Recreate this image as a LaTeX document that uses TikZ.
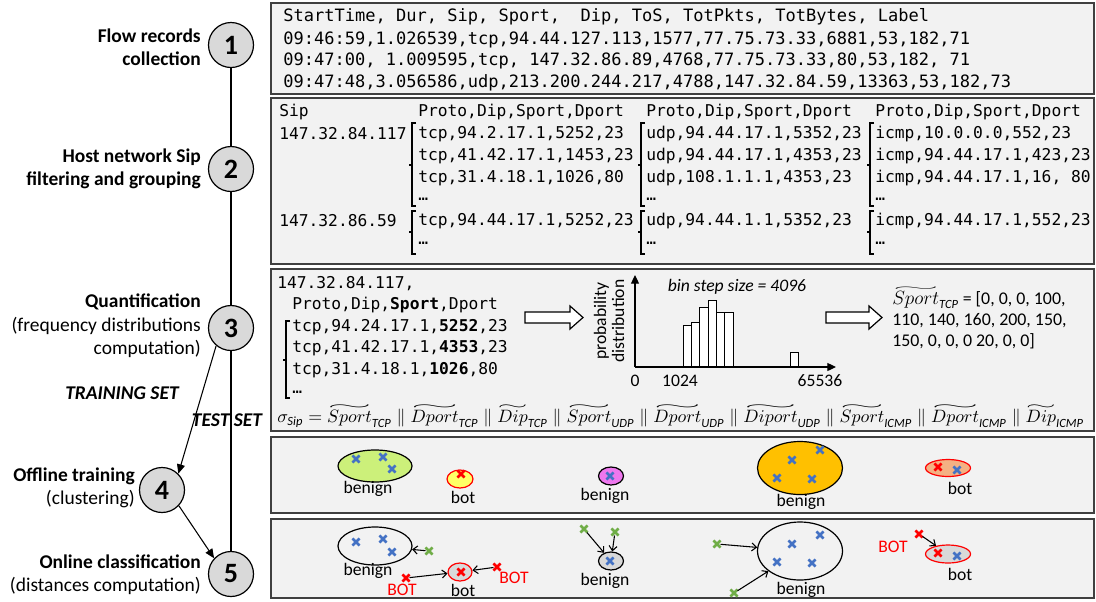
\documentclass[tikz,border=0pt]{standalone}
\usepackage{graphicx}
\usepackage{amsmath}
\usepackage{fontspec}
\setmainfont{Carlito}
\setmonofont{DejaVu Sans Mono}
\usetikzlibrary{shapes.geometric,shapes.misc,arrows.meta}
\newdimen\pxu \pxu=0.75pt
\definecolor{panelbg}{HTML}{F2F2F2}
\definecolor{stepgray}{HTML}{D9D9D9}
\definecolor{xblue}{HTML}{4472C4}
\definecolor{xred}{HTML}{FF0000}
\definecolor{xgreen}{HTML}{70AD47}
\definecolor{limeF}{HTML}{CCF07A}
\definecolor{yelF}{HTML}{FFFF66}
\definecolor{pinkF}{HTML}{EE77EE}
\definecolor{orangeF}{HTML}{FFC000}
\definecolor{salmonF}{HTML}{F4B183}
\newsavebox{\wtlbox}\newlength{\wtlw}
\newcommand{\wtl}[1]{\mathord{\vbox{\offinterlineskip\sbox{\wtlbox}{$#1$}\setlength{\wtlw}{\wd\wtlbox}\hbox{\resizebox{\wtlw}{2.6pt}{$\sim$}}\kern0.6pt\copy\wtlbox}}}
\newcommand{\sbi}[1]{\textit{#1}}
\newcommand{\brkt}[4]{\draw[brk] (#1+4,#2) -- (#1,#2) -- (#1,#3) -- (#1+4,#3) (#1,#4) -- (#1-3,#4);}
\tikzset{
 panel/.style={draw=black!75, line width=1.2pt, fill=panelbg},
 stepc/.style={circle, draw=black, line width=0.9pt, fill=stepgray, minimum size=45\pxu, inner sep=0pt, font=\fontsize{21}{21}\selectfont\bfseries},
 lbl/.style={anchor=east, align=right, inner sep=0pt, font=\fontsize{14.6}{17.5}\selectfont},
 setlbl/.style={inner sep=0pt, font=\fontsize{14.6}{17.5}\selectfont\bfseries\itshape},
 monoA/.style={anchor=west, inner sep=0pt, font=\ttfamily\fontsize{12.77}{15}\selectfont},
 monoB/.style={anchor=west, inner sep=0pt, font=\ttfamily\fontsize{12.2}{15}\selectfont},
 txt/.style={inner sep=0pt, font=\fontsize{13.2}{15}\selectfont},
 flowarrow/.style={-{Triangle[length=7pt,width=6pt]}, line width=0.8pt},
 brk/.style={line width=0.8pt},
 xm/.style={cross out, draw=#1, line width=1.9pt, minimum size=4.5\pxu, inner sep=0pt},
 clu/.style={ellipse, inner sep=0pt, line width=0.9pt},
 pt/.style={-{Straight Barb[length=3.5pt,width=6pt]}, line width=0.8pt},
 hollow/.style={draw=black, fill=white, line width=0.9pt, line join=miter},
 axis/.style={line width=0.9pt, -{Triangle[length=6.5pt,width=6pt]}},
 bar/.style={draw=black, fill=white, line width=0.75pt}
}
\begin{document}
\begin{tikzpicture}[x=0.75pt,y=-0.75pt]
\useasboundingbox (0,0) rectangle (1096,601);
\fill[white] (0,0) rectangle (1096,601);

% ---------- panels ----------
\draw[panel] (271,3) rectangle (1094,94);
\draw[panel] (271,98) rectangle (1094,264);
\draw[panel] (271,269) rectangle (1094,431);
\draw[panel] (271,437) rectangle (1094,513);
\draw[panel] (271,519) rectangle (1094,598);

% ---------- left column ----------
\node[stepc] (c1) at (231,45) {1};
\node[stepc] (c2) at (231,169) {2};
\node[stepc] (c3) at (231,328) {3};
\node[stepc] (c4) at (162,490) {4};
\node[stepc] (c5) at (231,574) {5};
\draw[line width=0.8pt] (c1) -- (c2);
\draw[line width=0.8pt] (c2) -- (c3);
\draw[line width=0.8pt] (c3) -- (c5);
\draw[flowarrow] (c3.230) -- (c4.45);
\draw[flowarrow] (c4.-43) -- (c5.137);

\node[lbl, font=\fontsize{14.6}{17.5}\selectfont\bfseries] (t1) at (201,47) {Flow records\\collection};
\node[lbl, font=\fontsize{14.6}{17.5}\selectfont\bfseries] (t2) at (201,169) {Host network Sip\\filtering and grouping};
\node[lbl] (t3) at (201,326) {{\bfseries Quantification}\\(frequency distributions\\computation)};
\node[setlbl] (tr) at (122,393) {TRAINING SET};
\node[setlbl] (ts) at (227,420) {TEST SET};
\node[lbl] (t4) at (135,488) {{\bfseries Offline training}\\(clustering)};
\node[lbl] (t5) at (201,575) {{\bfseries Online classification}\\(distances computation)};

% ---------- panel 1 ----------
\node[monoA] (r1) at (283,17) {StartTime, Dur, Sip, Sport,~ Dip, ToS, TotPkts, TotBytes, Label};
\node[monoA] (r2) at (283,40) {09:46:59,1.026539,tcp,94.44.127.113,1577,77.75.73.33,6881,53,182,71};
\node[monoA] (r3) at (283,61) {09:47:00, 1.009595,tcp, 147.32.86.89,4768,77.75.73.33,80,53,182, 71};
\node[monoA] (r4) at (283,83) {09:47:48,3.056586,udp,213.200.244.217,4788,147.32.84.59,13363,53,182,73};

% ---------- panel 2 ----------
\node[monoB] (h0) at (279,112) {Sip};
\node[monoB] (h1) at (418,112) {Proto,Dip,Sport,Dport};
\node[monoB] (h2) at (646,112) {Proto,Dip,Sport,Dport};
\node[monoB] (h3) at (875,112) {Proto,Dip,Sport,Dport};
\node[monoB] (s1) at (279,134) {147.32.84.117};
\node[monoB] (a1) at (418,134) {tcp,94.2.17.1,5252,23};
\node[monoB] (a2) at (418,156) {tcp,41.42.17.1,1453,23};
\node[monoB] (a3) at (418,178) {tcp,31.4.18.1,1026,80};
\node[monoB] (a4) at (418,199) {…};
\node[monoB] (u1) at (646,134) {udp,94.44.17.1,5352,23};
\node[monoB] (u2) at (646,156) {udp,94.44.17.1,4353,23};
\node[monoB] (u3) at (646,178) {udp,108.1.1.1,4353,23};
\node[monoB] (u4) at (646,199) {…};
\node[monoB] (i1) at (875,134) {icmp,10.0.0.0,552,23};
\node[monoB] (i2) at (875,156) {icmp,94.44.17.1,423,23};
\node[monoB] (i3) at (875,178) {icmp,94.44.17.1,16, 80};
\node[monoB] (i4) at (875,199) {…};
\node[monoB] (s2) at (279,221) {147.32.86.59};
\node[monoB] (a5) at (418,221) {tcp,94.44.17.1,5252,23};
\node[monoB] (a6) at (418,243) {…};
\node[monoB] (u5) at (646,221) {udp,94.44.1.1,5352,23};
\node[monoB] (u6) at (646,243) {…};
\node[monoB] (i5) at (875,221) {icmp,94.44.17.1,552,23};
\node[monoB] (i6) at (875,243) {…};
\brkt{412}{123}{206}{165}
\brkt{641}{123}{206}{165}
\brkt{870}{123}{206}{165}
\brkt{412}{211}{254}{232}
\brkt{641}{211}{254}{232}
\brkt{870}{211}{254}{232}

% ---------- panel 3 ----------
\node[monoB] (q0) at (277,284) {147.32.84.117,};
\node[monoB] (q1) at (292,305) {Proto,Dip,\textbf{Sport},Dport};
\node[monoB] (q2) at (292,327) {tcp,94.24.17.1,\textbf{5252},23};
\node[monoB] (q3) at (292,348) {tcp,41.42.17.1,\textbf{4353},23};
\node[monoB] (q4) at (292,370) {tcp,31.4.18.1,\textbf{1026},80};
\node[monoB] (q5) at (292,392) {…};
\brkt{286}{321}{398}{360}

\draw[hollow] (525,312) -- (570,312) -- (570,306) -- (583,317.5) -- (570,329) -- (570,323) -- (525,323) -- cycle;
\draw[hollow] (826,312) -- (869,312) -- (869,306) -- (882,317.5) -- (869,329) -- (869,323) -- (826,323) -- cycle;

\node[txt, rotate=90, align=center, font=\fontsize{13.2}{13.5}\selectfont] (pd) at (609,321) {probability\\distribution};
\draw[bar] (683,367) rectangle (691.3,325);
\draw[bar] (691.3,367) rectangle (699.7,322);
\draw[bar] (699.7,367) rectangle (708,307);
\draw[bar] (708,367) rectangle (716.3,300);
\draw[bar] (716.3,367) rectangle (724.7,312);
\draw[bar] (724.7,367) rectangle (733,312);
\draw[bar] (790,367) rectangle (798,352);
\coordinate (o) at (635,367);
\coordinate (ytip) at (635,275);
\coordinate (xtip) at (836,367);
\draw[axis] (o) -- (ytip);
\draw[axis] (o) -- (xtip);
\node[txt] (n0) at (635,381) {0};
\node[txt] (n1) at (680,381) {1024};
\node[txt] (n2) at (820,381) {65536};
\node[txt, font=\fontsize{13.2}{15}\selectfont\itshape] (bs) at (737,287) {bin step size = 4096};

\node[anchor=west, align=left, inner sep=0pt, font=\fontsize{13.4}{15.75}\selectfont] (vec) at (892,318) {$\wtl{Sport}_{\sbi{TCP}}$ = [0, 0, 0, 100,\\110, 140, 160, 200, 150,\\150, 0, 0, 0 20, 0, 0]};

\node[anchor=west, inner sep=0pt] (sig) at (277,416) {\resizebox{605pt}{!}{$\sigma_{\sbi{Sip}} = \wtl{Sport}_{\sbi{TCP}} \parallel \wtl{Dport}_{\sbi{TCP}} \parallel \wtl{Dip}_{\sbi{TCP}} \parallel \wtl{Sport}_{\sbi{UDP}} \parallel \wtl{Dport}_{\sbi{UDP}} \parallel \wtl{Diport}_{\sbi{UDP}} \parallel \wtl{Sport}_{\sbi{ICMP}} \parallel \wtl{Dport}_{\sbi{ICMP}} \parallel \wtl{Dip}_{\sbi{ICMP}}$}};

% ---------- panel 4 ----------
\node[clu, draw=black, fill=limeF, minimum width=74\pxu, minimum height=32\pxu] (g4a) at (375,466) {};
\foreach \p [count=\i] in {(356,459),(383,457),(392,469)} \node[xm=xblue] (b4a\i) at \p {};
\node[txt] (l4a) at (368,489) {benign};
\node[clu, draw=xred, fill=yelF, minimum width=26\pxu, minimum height=18\pxu] (g4b) at (460,479) {};
\node[xm=xred] (b4b) at (461,474) {};
\node[txt] (l4b) at (463,497) {bot};
\node[clu, draw=black, fill=pinkF, minimum width=25\pxu, minimum height=18\pxu] (g4c) at (611,476) {};
\node[xm=xblue] (b4c) at (610,476) {};
\node[txt] (l4c) at (605,496) {benign};
\node[clu, draw=black, fill=orangeF, minimum width=85\pxu, minimum height=53\pxu] (g4d) at (800,468) {};
\foreach \p [count=\i] in {(820,450),(792,460),(777,478),(812,479)} \node[xm=xblue] (b4d\i) at \p {};
\node[txt] (l4d) at (801,502) {benign};
\node[clu, draw=xred, fill=salmonF, minimum width=45\pxu, minimum height=17\pxu] (g4e) at (948,468) {};
\node[xm=xred] (b4e1) at (938,467) {};
\node[xm=xblue] (b4e2) at (957,470) {};
\node[txt] (l4e) at (960,488) {bot};

% ---------- panel 5 ----------
\node[clu, draw=black, fill=panelbg, minimum width=74\pxu, minimum height=38\pxu] (g5a) at (375,546) {};
\foreach \p [count=\i] in {(356,542),(383,539),(392,552)} \node[xm=xblue] (b5a\i) at \p {};
\node[txt] (l5a) at (368,571) {benign};
\node[xm=xgreen] (p1) at (429,551) {};
\draw[pt] (p1) -- (g5a);

\node[clu, draw=xred, fill=stepgray, minimum width=24\pxu, minimum height=18\pxu] (g5b) at (460,572) {};
\node[xm=xred] (b5b) at (461,572) {};
\node[txt] (l5b) at (463,590) {bot};
\node[xm=xred] (p2) at (406,578) {};
\node[xm=xred] (p3) at (497,567) {};
\draw[pt] (p2) -- (g5b);
\draw[pt] (p3) -- (g5b);
\node[txt, text=xred] (bt1) at (402,590) {BOT};
\node[txt, text=xred] (bt2) at (514,578) {BOT};

\node[clu, draw=black, fill=stepgray, minimum width=25\pxu, minimum height=18\pxu] (g5c) at (611,561) {};
\node[xm=xblue] (b5c) at (610,561) {};
\node[txt] (l5c) at (605,581) {benign};
\node[xm=xgreen] (p4) at (584,529) {};
\node[xm=xgreen] (p5) at (615,532) {};
\draw[pt] (p4) -- (g5c);
\draw[pt] (p5) -- (g5c);

\node[clu, draw=black, fill=panelbg, minimum width=85\pxu, minimum height=58\pxu] (g5d) at (800,551) {};
\foreach \p [count=\i] in {(820,535),(792,544),(777,562),(812,563)} \node[xm=xblue] (b5d\i) at \p {};
\node[txt] (l5d) at (801,590) {benign};
\node[xm=xgreen] (p6) at (717,544) {};
\node[xm=xgreen] (p7) at (734,593) {};
\draw[pt] (p6) -- (g5d);
\draw[pt] (p7) -- (g5d);

\node[clu, draw=xred, fill=stepgray, minimum width=45\pxu, minimum height=18\pxu] (g5e) at (948,554) {};
\node[xm=xred] (b5e1) at (938,553) {};
\node[xm=xblue] (b5e2) at (957,556) {};
\node[txt] (l5e) at (960,574) {bot};
\node[xm=xred] (p8) at (919,534) {};
\draw[pt] (p8) -- (g5e);
\node[txt, text=xred] (bt3) at (893,547) {BOT};
\end{tikzpicture}
\end{document}
